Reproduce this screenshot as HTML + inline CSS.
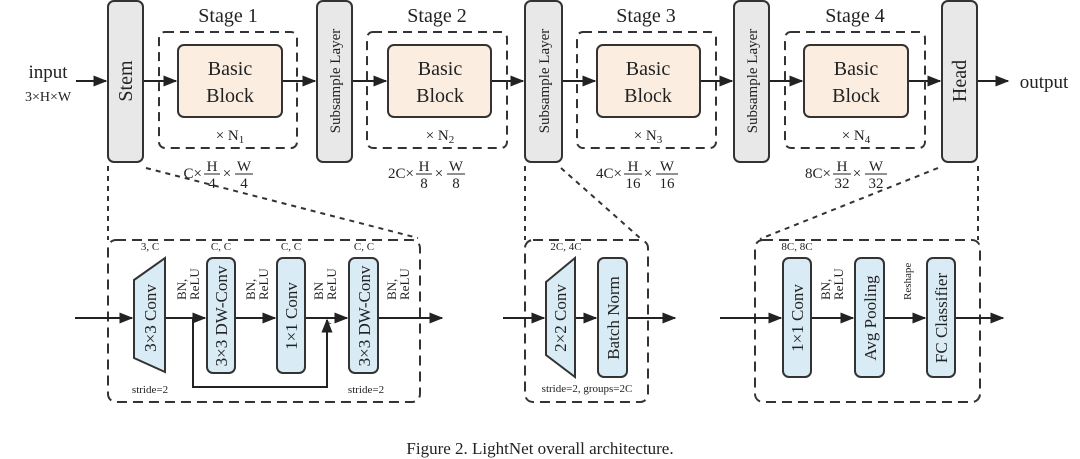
<!DOCTYPE html>
<html><head><meta charset="utf-8"><style>
html,body{margin:0;padding:0;background:#fff;}
svg{display:block;font-family:"Liberation Serif",serif;}
</style></head><body>
<svg width="1080" height="459" viewBox="0 0 1080 459" xmlns="http://www.w3.org/2000/svg">
<defs>
<marker id="a" viewBox="0 0 10 10" refX="9" refY="5" markerWidth="7" markerHeight="7" orient="auto"><path d="M0,1 L10,5 L0,9 Z" fill="#222"/></marker>
</defs>
<g fill="#222" font-size="20">
<g stroke="#222" stroke-width="2" fill="none">
<line x1="76" y1="81" x2="106" y2="81" marker-end="url(#a)"/>
<line x1="143" y1="81" x2="176" y2="81" marker-end="url(#a)"/>
<line x1="282" y1="81" x2="315" y2="81" marker-end="url(#a)"/>
<line x1="352" y1="81" x2="386" y2="81" marker-end="url(#a)"/>
<line x1="491" y1="81" x2="523" y2="81" marker-end="url(#a)"/>
<line x1="562" y1="81" x2="595" y2="81" marker-end="url(#a)"/>
<line x1="700" y1="81" x2="732" y2="81" marker-end="url(#a)"/>
<line x1="769" y1="81" x2="802" y2="81" marker-end="url(#a)"/>
<line x1="908" y1="81" x2="940" y2="81" marker-end="url(#a)"/>
<line x1="977" y1="81" x2="1008" y2="81" marker-end="url(#a)"/>
</g>
<g stroke="#333" stroke-width="2" fill="none" stroke-dasharray="9,6">
<rect x="159" y="32" width="138" height="116" rx="6"/>
<rect x="367" y="32" width="140" height="116" rx="6"/>
<rect x="577" y="32" width="139" height="116" rx="6"/>
<rect x="785" y="32" width="140" height="116" rx="6"/>
</g>
<g stroke="#333" stroke-width="2" fill="#e8e8e8">
<rect x="108" y="1" width="35" height="161" rx="6"/>
<rect x="317" y="1" width="35" height="161" rx="6"/>
<rect x="525" y="1" width="37" height="161" rx="6"/>
<rect x="734" y="1" width="35" height="161" rx="6"/>
<rect x="942" y="1" width="35" height="161" rx="6"/>
</g>
<g stroke="#333" stroke-width="2" fill="#fbeee0">
<rect x="178" y="45" width="104" height="72" rx="6"/>
<rect x="388" y="45" width="103" height="72" rx="6"/>
<rect x="597" y="45" width="103" height="72" rx="6"/>
<rect x="804" y="45" width="104" height="72" rx="6"/>
</g>
<g text-anchor="middle" font-size="20">
<text x="230" y="75">Basic</text><text x="230" y="102">Block</text>
<text x="440" y="75">Basic</text><text x="440" y="102">Block</text>
<text x="648" y="75">Basic</text><text x="648" y="102">Block</text>
<text x="856" y="75">Basic</text><text x="856" y="102">Block</text>
<text x="228" y="22">Stage 1</text>
<text x="437" y="22">Stage 2</text>
<text x="646" y="22">Stage 3</text>
<text x="855" y="22">Stage 4</text>
<text x="48" y="78" font-size="19">input</text>
<text x="48" y="101" font-size="14">3×H×W</text>
<text x="1044" y="88" font-size="19">output</text>
<g font-size="15">
<text x="230" y="140">× N<tspan font-size="11" dy="3">1</tspan></text>
<text x="440" y="140">× N<tspan font-size="11" dy="3">2</tspan></text>
<text x="648" y="140">× N<tspan font-size="11" dy="3">3</tspan></text>
<text x="856" y="140">× N<tspan font-size="11" dy="3">4</tspan></text>
</g>
</g>
<g text-anchor="middle">
<text transform="translate(132,81) rotate(-90)" font-size="20">Stem</text>
<text transform="translate(340,81) rotate(-90)" font-size="15">Subsample Layer</text>
<text transform="translate(549,81) rotate(-90)" font-size="15">Subsample Layer</text>
<text transform="translate(757,81) rotate(-90)" font-size="15">Subsample Layer</text>
<text transform="translate(966,81) rotate(-90)" font-size="20">Head</text>
</g>
<g font-size="15" text-anchor="middle">
<text x="202" y="178" text-anchor="end">C×</text>
<text x="212" y="171">H</text><line x1="204" y1="174" x2="220" y2="174" stroke="#222"/><text x="212" y="188">4</text>
<text x="227" y="178">×</text>
<text x="244" y="171">W</text><line x1="235" y1="174" x2="253" y2="174" stroke="#222"/><text x="244" y="188">4</text>
<text x="414" y="178" text-anchor="end">2C×</text>
<text x="424" y="171">H</text><line x1="416" y1="174" x2="432" y2="174" stroke="#222"/><text x="424" y="188">8</text>
<text x="439" y="178">×</text>
<text x="456" y="171">W</text><line x1="447" y1="174" x2="465" y2="174" stroke="#222"/><text x="456" y="188">8</text>
<text x="622" y="178" text-anchor="end">4C×</text>
<text x="633" y="171">H</text><line x1="624" y1="174" x2="642" y2="174" stroke="#222"/><text x="633" y="188">16</text>
<text x="648" y="178">×</text>
<text x="667" y="171">W</text><line x1="656" y1="174" x2="678" y2="174" stroke="#222"/><text x="667" y="188">16</text>
<text x="831" y="178" text-anchor="end">8C×</text>
<text x="842" y="171">H</text><line x1="833" y1="174" x2="851" y2="174" stroke="#222"/><text x="842" y="188">32</text>
<text x="857" y="178">×</text>
<text x="876" y="171">W</text><line x1="865" y1="174" x2="887" y2="174" stroke="#222"/><text x="876" y="188">32</text>
</g>
<g stroke="#333" stroke-width="2" fill="none" stroke-dasharray="5,5">
<line x1="108" y1="166" x2="108" y2="240"/>
<line x1="146" y1="168" x2="418" y2="238"/>
<line x1="525" y1="166" x2="525" y2="240"/>
<line x1="561" y1="168" x2="640" y2="238"/>
<line x1="978" y1="166" x2="978" y2="240"/>
<line x1="938" y1="168" x2="760" y2="239"/>
</g>
<g stroke="#333" stroke-width="2" fill="none" stroke-dasharray="10,6">
<rect x="108" y="240" width="312" height="162" rx="8"/>
<rect x="525" y="240" width="123" height="162" rx="8"/>
<rect x="755" y="240" width="225" height="162" rx="8"/>
</g>
<g stroke="#222" stroke-width="2" fill="none">
<line x1="75" y1="318" x2="132" y2="318" marker-end="url(#a)"/>
<line x1="165" y1="318" x2="205" y2="318" marker-end="url(#a)"/>
<line x1="235" y1="318" x2="275" y2="318" marker-end="url(#a)"/>
<line x1="305" y1="318" x2="347" y2="318" marker-end="url(#a)"/>
<line x1="378" y1="318" x2="442" y2="318" marker-end="url(#a)"/>
<polyline points="193,318 193,387 327,387 327,320" marker-end="url(#a)"/>
<line x1="503" y1="318" x2="544" y2="318" marker-end="url(#a)"/>
<line x1="575" y1="318" x2="596" y2="318" marker-end="url(#a)"/>
<line x1="627" y1="318" x2="675" y2="318" marker-end="url(#a)"/>
<line x1="720" y1="318" x2="781" y2="318" marker-end="url(#a)"/>
<line x1="811" y1="318" x2="853" y2="318" marker-end="url(#a)"/>
<line x1="884" y1="318" x2="925" y2="318" marker-end="url(#a)"/>
<line x1="955" y1="318" x2="1003" y2="318" marker-end="url(#a)"/>
</g>
<g stroke="#333" stroke-width="2" fill="#d9ecf6">
<polygon points="134,280 165,258 165,372 134,358"/>
<rect x="207" y="258" width="28" height="115" rx="6"/>
<rect x="277" y="258" width="28" height="115" rx="6"/>
<rect x="349" y="258" width="29" height="115" rx="6"/>
<polygon points="546,282 575,258 575,377 546,355"/>
<rect x="598" y="258" width="29" height="119" rx="6"/>
<rect x="783" y="258" width="28" height="119" rx="6"/>
<rect x="855" y="258" width="29" height="119" rx="6"/>
<rect x="927" y="258" width="28" height="119" rx="6"/>
</g>
<g text-anchor="middle" font-size="17">
<text transform="translate(156,318) rotate(-90)">3×3 Conv</text>
<text transform="translate(227,316) rotate(-90)">3×3 DW-Conv</text>
<text transform="translate(297,316) rotate(-90)">1×1 Conv</text>
<text transform="translate(370,316) rotate(-90)">3×3 DW-Conv</text>
<text transform="translate(566,318) rotate(-90)">2×2 Conv</text>
<text transform="translate(619,318) rotate(-90)">Batch Norm</text>
<text transform="translate(803,318) rotate(-90)">1×1 Conv</text>
<text transform="translate(876,318) rotate(-90)">Avg Pooling</text>
<text transform="translate(947,318) rotate(-90)">FC Classifier</text>
</g>
<g font-size="11" text-anchor="middle">
<text x="150" y="250">3, C</text>
<text x="221" y="250">C, C</text>
<text x="291" y="250">C, C</text>
<text x="364" y="250">C, C</text>
<text x="150" y="393">stride=2</text>
<text x="366" y="393">stride=2</text>
<text x="566" y="250">2C, 4C</text>
<text x="587" y="392">stride=2, groups=2C</text>
<text x="797" y="250">8C, 8C</text>
<text x="329" y="327" font-size="10">+</text>
</g>
<g font-size="13" text-anchor="start">
<text transform="translate(186,300) rotate(-90)">BN,</text>
<text transform="translate(199,300) rotate(-90)">ReLU</text>
<text transform="translate(255,300) rotate(-90)">BN,</text>
<text transform="translate(268,300) rotate(-90)">ReLU</text>
<text transform="translate(323,300) rotate(-90)">BN</text>
<text transform="translate(336,300) rotate(-90)">ReLU</text>
<text transform="translate(396,300) rotate(-90)">BN,</text>
<text transform="translate(409,300) rotate(-90)">ReLU</text>
<text transform="translate(830,300) rotate(-90)">BN,</text>
<text transform="translate(843,300) rotate(-90)">ReLU</text>
<text transform="translate(911,300) rotate(-90)" font-size="11">Reshape</text>
</g>
<text x="540" y="454" text-anchor="middle" font-size="17">Figure 2. LightNet overall architecture.</text>
</g>
</svg>
</body></html>
